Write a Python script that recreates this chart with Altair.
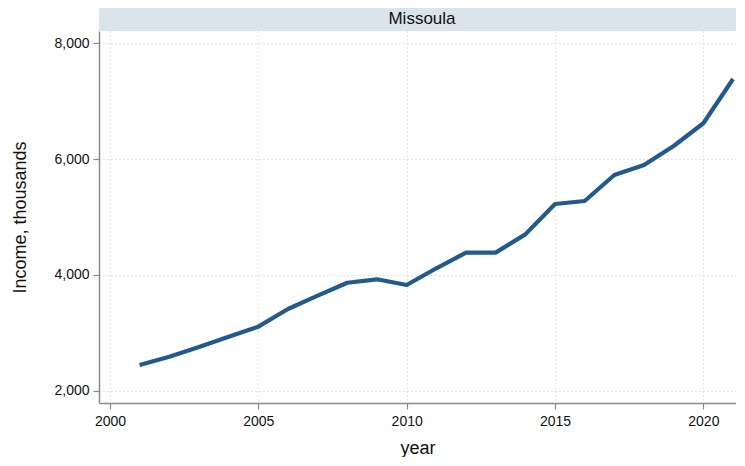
import altair as alt
import pandas as pd

years = list(range(2001, 2022))
income = [2448, 2591, 2759, 2936, 3109, 3414, 3643, 3867, 3926, 3828, 4116,
          4386, 4386, 4700, 5224, 5276, 5724, 5897, 6224, 6616, 7380]
panel = ["Missoula"]
x_ticks = [2000, 2005, 2010, 2015, 2020]
y_ticks = [2000, 4000, 6000, 8000]

df = pd.DataFrame({"year": years, "income": income})
lab = pd.DataFrame({"label": panel})

W, H = 637, 372
FONT = "Liberation Sans"
STRIP = 25

x = alt.X("year:Q",
          scale=alt.Scale(domain=[1999.63, 2021.1], nice=False, zero=False),
          axis=alt.Axis(values=x_ticks, format="d", title="year",
                        labelPadding=5, titlePadding=11))
y = alt.Y("income:Q",
          scale=alt.Scale(domain=[1793, 8207], nice=False, zero=False),
          axis=alt.Axis(values=y_ticks, format=",.0f", title="Income, thousands",
                        labelPadding=4, titlePadding=24))

line = alt.Chart(df).mark_line(color="#215a8b", strokeWidth=4.2,
                               strokeCap="butt", strokeJoin="round").encode(x=x, y=y)

strip = alt.Chart(lab).mark_rect(color="#d9e5eb").encode(
    x=alt.value(0), x2=alt.value(W), y=alt.value(-STRIP), y2=alt.value(0))

text = alt.Chart(lab).mark_text(font=FONT, fontSize=17, baseline="middle",
                                align="center", color="#111").encode(
    text="label:N", x=alt.value(323), y=alt.value(-STRIP / 2))

chart = alt.layer(strip, text, line).properties(
    width=W, height=H,
    padding={"left": 3, "top": -2, "right": 0, "bottom": 0},
).configure_view(stroke=None).configure_axis(
    labelFont=FONT, titleFont=FONT, labelFontSize=14, titleFontSize=18,
    titleFontWeight="normal", labelColor="#111", titleColor="#111",
    domainColor="#8a8a8a", domainWidth=1.5, tickColor="#8a8a8a", tickSize=6,
    tickWidth=1.2, gridColor="#c8c8c8", gridDash=[1, 3], gridWidth=1,
)

chart.save("out.html", embed_options={"renderer": "svg", "actions": False})
